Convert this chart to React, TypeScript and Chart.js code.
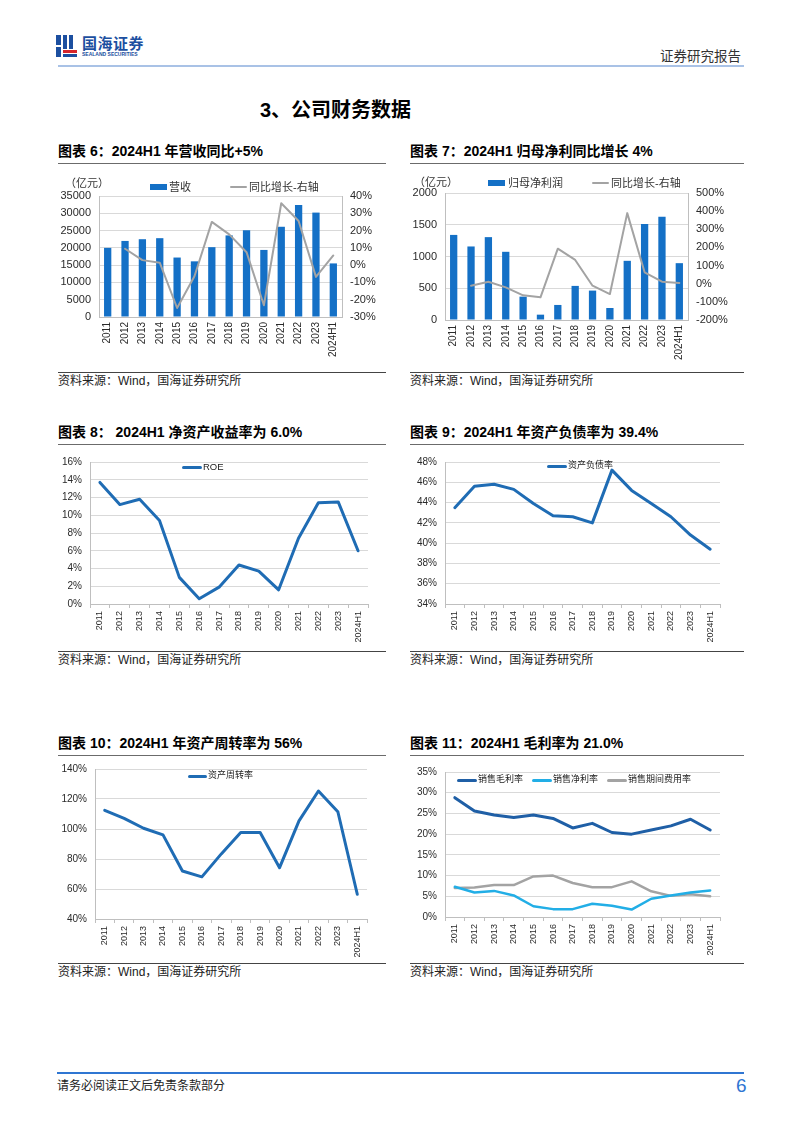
import React, { useEffect, useRef } from "react";
import { Chart, registerables } from "chart.js";

Chart.register(...registerables);

// ---------- data ----------
const categories = ["2011", "2012", "2013", "2014", "2015", "2016", "2017", "2018", "2019", "2020", "2021", "2022", "2023", "2024H1"];
const revenue = [20000, 22000, 22500, 22800, 17200, 16100, 20200, 23600, 25100, 19400, 26100, 32400, 30200, 15500];
const revenueYoY = [null, 9.5, 2.9, 1.4, -24.8, -6.4, 25.0, 17.8, 7.5, -23.2, 35.8, 25.5, -6.8, 5.6];
const netProfit = [1340, 1158, 1305, 1074, 368, 84, 237, 537, 463, 189, 932, 1511, 1626, 895];
const netProfitYoY = [null, -11, 11, -20, -64, -75, 193, 131, -11, -57, 389, 63, 11, 4];
const roe = [13.7, 11.2, 11.8, 9.4, 3.0, 0.6, 1.9, 4.4, 3.7, 1.6, 7.4, 11.4, 11.5, 6.0];
const debtRatio = [43.5, 45.6, 45.8, 45.3, 43.9, 42.7, 42.6, 42.0, 47.2, 45.2, 43.9, 42.6, 40.8, 39.4];
const assetTurnover = [112.4, 107.1, 100.5, 96.1, 72.0, 68.1, 83.4, 97.7, 97.7, 74.2, 105.4, 125.3, 111.5, 56.5];
const grossMargin = [28.8, 25.6, 24.6, 24.0, 24.6, 23.8, 21.5, 22.6, 20.4, 20.0, 21.0, 22.0, 23.6, 21.0];
const netMargin = [7.3, 5.9, 6.3, 5.2, 2.6, 1.9, 1.9, 3.2, 2.7, 1.8, 4.4, 5.2, 5.9, 6.4];
const expenseRatio = [7.0, 7.1, 7.7, 7.7, 9.8, 10.0, 8.2, 7.2, 7.2, 8.6, 6.2, 5.1, 5.5, 5.0];

// axis ranges: [min, max, step]
const revenueAxis = [0, 35000, 5000];
const revenueYoYAxis = [-30, 40, 10];
const profitAxis = [0, 2000, 500];
const profitYoYAxis = [-200, 500, 100];
const roeAxis = [0, 16, 2];
const debtAxis = [34, 48, 2];
const turnoverAxis = [40, 140, 20];
const marginAxis = [0, 35, 5];

// ---------- styles ----------
const BLUE_BAR = "#1470c6";
const GRAY_LINE = "#a3a3a3";
const LINE_BLUE = "#1f6cb4";
const DARK_BLUE = "#1f5fa6";
const LIGHT_BLUE = "#22aee6";
const LATIN = "'Liberation Sans', Arial, sans-serif";
const CJK = "'Liberation Sans', 'Noto Sans CJK SC', sans-serif";
const GRID = "#d9d9d9";
const AXIS = "#bfbfbf";
const TXT = "#2a2a2a";

const pct = (v: any) => v + "%";

function xAxis(h: number, size: number, tick: number, pad: number) {
  return {
    type: "category",
    offset: true,
    grid: { display: true, drawOnChartArea: false, drawTicks: tick > 0, tickLength: tick, offset: true, color: AXIS },
    border: { display: true, color: AXIS },
    ticks: { minRotation: 90, maxRotation: 90, autoSkip: false, font: { family: LATIN, size }, color: TXT, padding: pad },
    afterFit: (s: any) => { s.height = h; },
  };
}

function yAxis(range: number[], w: number, size: number, cb: any, position = "left", grid = true) {
  return {
    position,
    min: range[0],
    max: range[1],
    grid: { display: true, drawOnChartArea: grid, drawTicks: false, color: GRID },
    border: { display: true, color: AXIS },
    ticks: { stepSize: range[2], callback: cb, font: { family: LATIN, size }, color: TXT, padding: 8 },
    afterFit: (s: any) => { s.width = w; },
  };
}

function baseOptions(padTop: number, padRight: number, scales: any) {
  return {
    responsive: false,
    animation: false,
    devicePixelRatio: 1,
    layout: { padding: { top: padTop, right: padRight, left: 0, bottom: 0 } },
    plugins: { legend: { display: false }, tooltip: { enabled: false } },
    scales,
  };
}

function lineDs(data: any[], color: string, width = 3) {
  return {
    type: "line",
    data,
    borderColor: color,
    backgroundColor: color,
    borderWidth: width,
    pointRadius: 0,
    tension: 0,
    borderJoinStyle: "round",
    borderCapStyle: "round",
  };
}

// ---------- chart configs ----------
const cfgRevenue = () => ({
  type: "bar",
  data: {
    labels: categories,
    datasets: [
      { ...lineDs(revenueYoY, GRAY_LINE, 2), yAxisID: "y1", order: 0 },
      { type: "bar", data: revenue, backgroundColor: BLUE_BAR, barPercentage: 0.42, categoryPercentage: 1, yAxisID: "y", order: 1 },
    ],
  },
  options: baseOptions(26, 0, {
    x: xAxis(48, 10, 0, 5),
    y: yAxis(revenueAxis, 41, 11, (v: any) => v),
    y1: { ...yAxis(revenueYoYAxis, 46, 11, pct, "right", false) },
  }),
});

const cfgProfit = () => ({
  type: "bar",
  data: {
    labels: categories,
    datasets: [
      { ...lineDs(netProfitYoY, GRAY_LINE, 2), yAxisID: "y1", order: 0 },
      { type: "bar", data: netProfit, backgroundColor: BLUE_BAR, barPercentage: 0.42, categoryPercentage: 1, yAxisID: "y", order: 1 },
    ],
  },
  options: baseOptions(23, 0, {
    x: xAxis(45, 10, 0, 5),
    y: yAxis(profitAxis, 37, 11, (v: any) => v),
    y1: { ...yAxis(profitYoYAxis, 56, 11, pct, "right", false) },
  }),
});

const singleLine = (data: number[], range: number[], color: string, padTop: number, padRight: number, leftW: number, xH: number) => () => ({
  type: "line",
  data: { labels: categories, datasets: [lineDs(data, color, 3)] },
  options: baseOptions(padTop, padRight, {
    x: xAxis(xH, 9, 4, 3),
    y: yAxis(range, leftW, 10, pct),
  }),
});

const cfgMargins = () => ({
  type: "line",
  data: {
    labels: categories,
    datasets: [lineDs(grossMargin, DARK_BLUE, 3), lineDs(netMargin, LIGHT_BLUE, 2.5), lineDs(expenseRatio, GRAY_LINE, 2.5)],
  },
  options: baseOptions(17, 24, {
    x: xAxis(43, 9, 4, 3),
    y: yAxis(marginAxis, 37, 10, pct),
  }),
});

// ---------- components ----------
function ChartBox({ left, top, width, height, config }: any) {
  const ref = useRef<HTMLCanvasElement>(null);
  useEffect(() => {
    const chart = new Chart(ref.current as HTMLCanvasElement, config() as any);
    return () => chart.destroy();
  }, []);
  return (
    <div style={{ position: "absolute", left, top, width, height }}>
      <canvas ref={ref} width={width} height={height} style={{ width, height, display: "block" }} />
    </div>
  );
}

function Txt({ x, y, size, children, style }: any) {
  return (
    <div
      style={{
        position: "absolute",
        left: x,
        top: y,
        transform: "translateY(-50%)",
        fontSize: size,
        lineHeight: 1.1,
        whiteSpace: "nowrap",
        fontFamily: CJK,
        color: "#111",
        ...style,
      }}
    >
      {children}
    </div>
  );
}

function HLine({ x, y, w, h = 1, color }: any) {
  return <div style={{ position: "absolute", left: x, top: y, width: w, height: h, background: color }} />;
}

function LineSwatch({ x, y, w, color, h = 3 }: any) {
  return <div style={{ position: "absolute", left: x, top: y - h / 2, width: w, height: h, background: color, borderRadius: h / 2 }} />;
}

function Panel({ x, w, titleY, title }: any) {
  return (
    <>
      <Txt x={x} y={titleY} size={14} style={{ fontWeight: "bold", color: "#000" }}>{title}</Txt>
      <HLine x={x} y={titleY + 11} w={w} color="#6b6b6b" />
    </>
  );
}

function Source({ x, y, w }: any) {
  return (
    <>
      <HLine x={x} y={y - 10} w={w} color="#444" />
      <Txt x={x} y={y} size={12} style={{ color: "#222" }}>资料来源：Wind，国海证券研究所</Txt>
    </>
  );
}

export default function App() {
  const L = 58, LW = 328, R = 410, RW = 334;
  return (
    <div style={{ position: "absolute", left: 0, top: 0, width: 802, height: 1133, background: "#fff", overflow: "hidden" }}>
      {/* header logo */}
      <div style={{ position: "absolute", left: 56, top: 35, width: 5, height: 10, background: "#1c4fa0" }} />
      <div style={{ position: "absolute", left: 56, top: 47, width: 5, height: 10, background: "#1c4fa0" }} />
      <div style={{ position: "absolute", left: 63, top: 35, width: 4, height: 14, background: "#1c4fa0" }} />
      <div style={{ position: "absolute", left: 69, top: 35, width: 4, height: 14, background: "#1c4fa0" }} />
      <div style={{ position: "absolute", left: 63, top: 50, width: 14, height: 3, background: "#d7262b" }} />
      <div style={{ position: "absolute", left: 63, top: 54, width: 14, height: 3, background: "#1c4fa0" }} />
      <Txt x={82} y={44} size={15} style={{ fontWeight: "bold", color: "#1c4fa0", letterSpacing: 0.5 }}>国海证券</Txt>
      <Txt x={82} y={55} size={5} style={{ fontWeight: "bold", color: "#1c4fa0" }}>SEALAND SECURITIES</Txt>
      <Txt x={660} y={57} size={13.5} style={{ color: "#333" }}>证券研究报告</Txt>
      <HLine x={58} y={65} w={686} h={2} color="#a9c2e6" />

      {/* section title */}
      <Txt x={260} y={110} size={20} style={{ fontWeight: "bold", color: "#000" }}>3、公司财务数据</Txt>

      {/* row 1 */}
      <Panel x={L} w={LW} titleY={152} title="图表 6：2024H1 年营收同比+5%" />
      <Panel x={R} w={RW} titleY={152} title="图表 7：2024H1 归母净利同比增长 4%" />
      <ChartBox left={58} top={170} width={330} height={195} config={cfgRevenue} />
      <ChartBox left={408} top={170} width={336} height={195} config={cfgProfit} />
      <Txt x={65} y={183} size={11} style={{ color: "#333" }}>（亿元）</Txt>
      <div style={{ position: "absolute", left: 150, top: 184, width: 17, height: 6, background: BLUE_BAR }} />
      <Txt x={169} y={187} size={11} style={{ color: "#333" }}>营收</Txt>
      <LineSwatch x={230} y={187} w={17} color={GRAY_LINE} h={2} />
      <Txt x={249} y={187} size={11} style={{ color: "#333" }}>同比增长-右轴</Txt>
      <Txt x={414} y={182} size={11} style={{ color: "#333" }}>（亿元）</Txt>
      <div style={{ position: "absolute", left: 488, top: 180, width: 17, height: 6, background: BLUE_BAR }} />
      <Txt x={508} y={183} size={11} style={{ color: "#333" }}>归母净利润</Txt>
      <LineSwatch x={592} y={183} w={17} color={GRAY_LINE} h={2} />
      <Txt x={611} y={183} size={11} style={{ color: "#333" }}>同比增长-右轴</Txt>
      <Source x={L} y={382} w={LW} />
      <Source x={R} y={382} w={RW} />

      {/* row 2 */}
      <Panel x={L} w={LW} titleY={433} title="图表 8：  2024H1 净资产收益率为 6.0%" />
      <Panel x={R} w={RW} titleY={433} title="图表 9：2024H1 年资产负债率为 39.4%" />
      <ChartBox left={58} top={448} width={330} height={200} config={singleLine(roe, roeAxis, LINE_BLUE, 13, 20, 32, 44)} />
      <ChartBox left={408} top={448} width={336} height={200} config={singleLine(debtRatio, debtAxis, LINE_BLUE, 13, 24, 37, 44)} />
      <LineSwatch x={182} y={467} w={20} color={LINE_BLUE} />
      <Txt x={203} y={467} size={9.5} style={{ color: "#222" }}>ROE</Txt>
      <LineSwatch x={547} y={466} w={20} color={LINE_BLUE} />
      <Txt x={568} y={466} size={9} style={{ color: "#222" }}>资产负债率</Txt>
      <Source x={L} y={661} w={LW} />
      <Source x={R} y={661} w={RW} />

      {/* row 3 */}
      <Panel x={L} w={LW} titleY={744} title="图表 10：2024H1 年资产周转率为 56%" />
      <Panel x={R} w={RW} titleY={744} title="图表 11：2024H1 毛利率为 21.0%" />
      <ChartBox left={58} top={755} width={330} height={205} config={singleLine(assetTurnover, turnoverAxis, LINE_BLUE, 12, 21, 37, 41)} />
      <ChartBox left={408} top={755} width={336} height={205} config={cfgMargins} />
      <LineSwatch x={188} y={776} w={19} color={LINE_BLUE} />
      <Txt x={208} y={776} size={9} style={{ color: "#222" }}>资产周转率</Txt>
      <LineSwatch x={457} y={780} w={20} color={DARK_BLUE} />
      <Txt x={478} y={780} size={9} style={{ color: "#222" }}>销售毛利率</Txt>
      <LineSwatch x={532} y={780} w={20} color={LIGHT_BLUE} />
      <Txt x={553} y={780} size={9} style={{ color: "#222" }}>销售净利率</Txt>
      <LineSwatch x={607} y={780} w={20} color={GRAY_LINE} />
      <Txt x={628} y={780} size={9} style={{ color: "#222" }}>销售期间费用率</Txt>
      <Source x={L} y={973} w={LW} />
      <Source x={R} y={973} w={RW} />

      {/* footer */}
      <HLine x={57} y={1072} w={687} h={1.5} color="#2f76d2" />
      <Txt x={57} y={1087} size={12} style={{ color: "#222" }}>请务必阅读正文后免责条款部分</Txt>
      <Txt x={736} y={1086} size={19} style={{ color: "#2f76d2", fontFamily: "'Liberation Sans Narrow', 'Liberation Sans', sans-serif" }}>6</Txt>
    </div>
  );
}
